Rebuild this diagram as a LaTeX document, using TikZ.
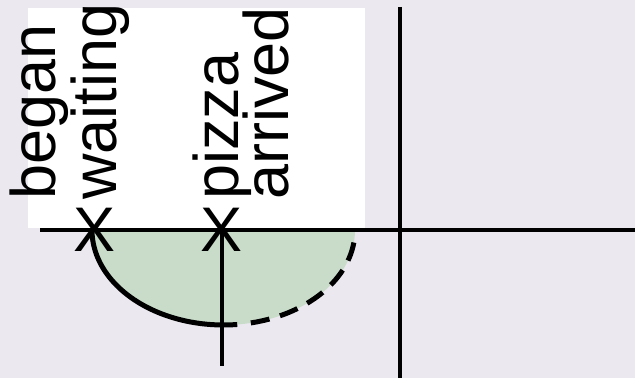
\documentclass[tikz,border=0pt]{standalone}
\usepackage{fontspec}
\setmainfont{Liberation Sans}
\definecolor{bgcol}{RGB}{236,232,240}
\definecolor{fillgreen}{RGB}{201,220,202}
\begin{document}
\begin{tikzpicture}[x=1pt,y=1pt,
  lbl/.style={font=\fontsize{63}{63}\selectfont, inner sep=0pt, rotate=90, anchor=base west},
  xmark/.style={font=\fontsize{63}{63}\selectfont, inner sep=0pt, anchor=center},
  axis/.style={line width=3.5pt},
  curve/.style={line width=5pt}]
\useasboundingbox (0,0) rectangle (635,378);
\fill[bgcol] (0,0) rectangle (635,378);
\fill[white] (28,150) rectangle (365,370);
% filled half ellipse
\fill[fillgreen] (92,148) arc[start angle=180, end angle=360, x radius=131.5, y radius=95] -- cycle;
% axes
\coordinate (hL) at (40,148);
\coordinate (hR) at (635,148);
\coordinate (vT) at (400,371);
\coordinate (vB) at (400,0);
\draw[axis] (hL) -- (hR);
\draw[axis] (vT) -- (vB);
% arc
\draw[curve] (92,148) arc[start angle=180, end angle=276, x radius=131.5, y radius=95];
\draw[curve, dash pattern=on 19pt off 11pt] (223.5,148) ++(282:131.5 and 95) arc[start angle=282, end angle=360, x radius=131.5, y radius=95];
% marks
\node[xmark] (xa) at (95,148) {X};
\node[xmark] (xb) at (222,148) {X};
\coordinate (vend) at (222,12);
\draw[line width=4pt] (xb.center) -- (vend);
% labels
\node[lbl] (began) at (55,178) {began};
\node[lbl] (waiting) at (116,178) {waiting};
\node[lbl] (pizza) at (238,178) {pizza};
\node[lbl] (arrived) at (288,178) {arrived};
\end{tikzpicture}
\end{document}
